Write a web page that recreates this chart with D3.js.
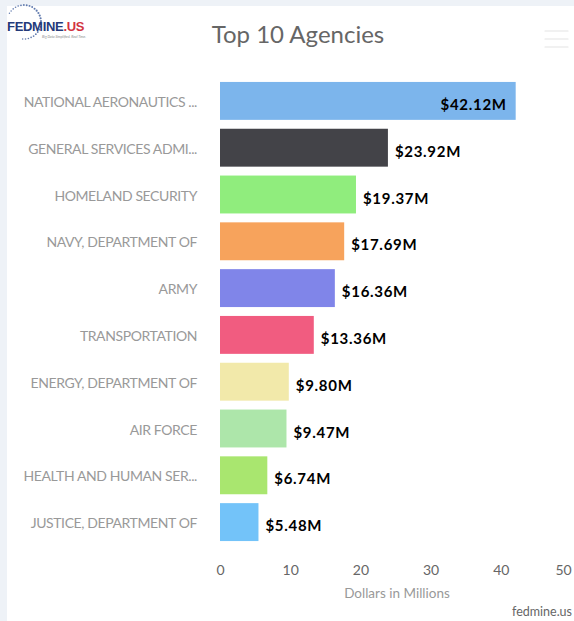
<!DOCTYPE html>
<html>
<head>
<meta charset="utf-8">
<script src="https://cdn.jsdelivr.net/npm/d3@7"></script>
<style>
  html, body { margin: 0; padding: 0; background: #eef2f7; }
  #container { width: 574px; height: 621px; }
  text { font-family: Lato, "Open Sans", sans-serif; }
</style>
</head>
<body>
<div id="container"></div>
<script>
    // chart data
    const agencies = [
        "NATIONAL AERONAUTICS ...",
        "GENERAL SERVICES ADMI...",
        "HOMELAND SECURITY",
        "NAVY, DEPARTMENT OF",
        "ARMY",
        "TRANSPORTATION",
        "ENERGY, DEPARTMENT OF",
        "AIR FORCE",
        "HEALTH AND HUMAN SER...",
        "JUSTICE, DEPARTMENT OF"
    ];
    const amounts = [42.12, 23.92, 19.37, 17.69, 16.36, 13.36, 9.80, 9.47, 6.74, 5.48];
    const barColors = ["#7cb5ec", "#434348", "#90ed7d", "#f7a35c", "#8085e9",
                       "#f15c80", "#f2e9aa", "#ade6aa", "#a9e66f", "#73c3f9"];
    const xTicks = [0, 10, 20, 30, 40, 50];

    const width = 574;
    const height = 621;
    const marginLeft = 220;
    const plotRight = 571;
    const plotTop = 77.5;
    const plotBottom = 545.5;

    const svg = d3.create("svg")
        .attr("width", width)
        .attr("height", height);

    // white panel
    svg.append("rect")
        .attr("x", 7)
        .attr("y", 6)
        .attr("width", width - 7)
        .attr("height", height - 6)
        .attr("fill", "#ffffff");

    const x = d3.scaleLinear().domain([0, 50]).range([marginLeft, plotRight]);
    const y = d3.scaleBand().domain(agencies).range([plotTop, plotBottom])
        .paddingInner(0.19).paddingOuter(0.095);

    // title
    svg.append("text")
        .attr("x", 298)
        .attr("y", 43)
        .attr("text-anchor", "middle")
        .attr("fill", "#666666")
        .style("font-size", "24px")
        .text("Top 10 Agencies");

    // menu icon
    svg.append("g")
        .selectAll("line")
        .data([31, 39, 47])
        .join("line")
        .attr("x1", 545)
        .attr("x2", 568)
        .attr("y1", d => d)
        .attr("y2", d => d)
        .attr("stroke", "#e4e4e4")
        .attr("stroke-width", 1.2)
        .attr("stroke-linecap", "round");

    // logo
    const logo = svg.append("g");
    const dots = d3.range(0, 26).map(i => {
        const a = -2.6 + i * 0.17;
        return [24 + Math.cos(a) * 17, 22 + Math.sin(a) * 17, 1.1 - Math.abs(i - 13) * 0.03];
    });
    logo.selectAll("circle")
        .data(dots)
        .join("circle")
        .attr("cx", d => d[0])
        .attr("cy", d => d[1])
        .attr("r", d => d[2])
        .attr("fill", "#3b5a9a")
        .attr("opacity", 0.8);
    const logoText = logo.append("text")
        .attr("x", 7)
        .attr("y", 31)
        .style("font-family", "'Liberation Sans Narrow', 'Liberation Sans', sans-serif")
        .style("font-weight", "bold")
        .style("font-size", "13px")
        .attr("letter-spacing", "-0.3");
    logoText.append("tspan").attr("fill", "#243a7a").text("FEDMINE");
    logoText.append("tspan").attr("fill", "#d2333f").text(".US");
    logo.append("text")
        .attr("x", 42)
        .attr("y", 38)
        .attr("fill", "#888888")
        .style("font-size", "3.5px")
        .style("font-style", "italic")
        .text("Big Data Simplified. Real Time.");

    // bars
    svg.append("g")
        .selectAll("rect")
        .data(amounts)
        .join("rect")
        .attr("x", x(0))
        .attr("y", (d, i) => y(agencies[i]))
        .attr("width", d => x(d) - x(0))
        .attr("height", y.bandwidth())
        .attr("fill", (d, i) => barColors[i]);

    // value labels
    svg.append("g")
        .selectAll("text")
        .data(amounts)
        .join("text")
        .attr("x", d => x(d) > 480 ? x(d) - 9 : x(d) + 7)
        .attr("y", (d, i) => y(agencies[i]) + y.bandwidth() / 2 + 9)
        .attr("text-anchor", d => x(d) > 480 ? "end" : "start")
        .attr("fill", "#000000")
        .attr("letter-spacing", "0.7")
        .style("font-size", "15px")
        .style("font-weight", "bold")
        .text(d => "$" + d.toFixed(2) + "M");

    // category labels
    svg.append("g")
        .selectAll("text")
        .data(agencies)
        .join("text")
        .attr("x", 197)
        .attr("y", d => y(d) + y.bandwidth() / 2 + 6)
        .attr("text-anchor", "end")
        .attr("fill", "#999999")
        .attr("letter-spacing", "-0.4")
        .style("font-size", "14px")
        .text(d => d);

    // x axis tick labels
    const xAxis = svg.append("g")
        .attr("transform", `translate(0,${plotBottom + 4})`)
        .call(d3.axisBottom(x).tickValues(xTicks).tickSize(0).tickPadding(16));
    xAxis.select(".domain").remove();
    xAxis.selectAll("text")
        .attr("fill", "#666666")
        .style("font-family", "Lato, 'Open Sans', sans-serif")
        .style("font-size", "14px")
        .attr("x", d => d === 50 ? -8 : 0);

    // axis title
    svg.append("text")
        .attr("x", 397)
        .attr("y", 598)
        .attr("text-anchor", "middle")
        .attr("fill", "#999999")
        .style("font-size", "13.5px")
        .text("Dollars in Millions");

    // credits
    svg.append("text")
        .attr("x", 572)
        .attr("y", 616)
        .attr("text-anchor", "end")
        .attr("fill", "#666666")
        .style("font-size", "12.5px")
        .text("fedmine.us");

    container.append(svg.node());
</script>
</body>
</html>
